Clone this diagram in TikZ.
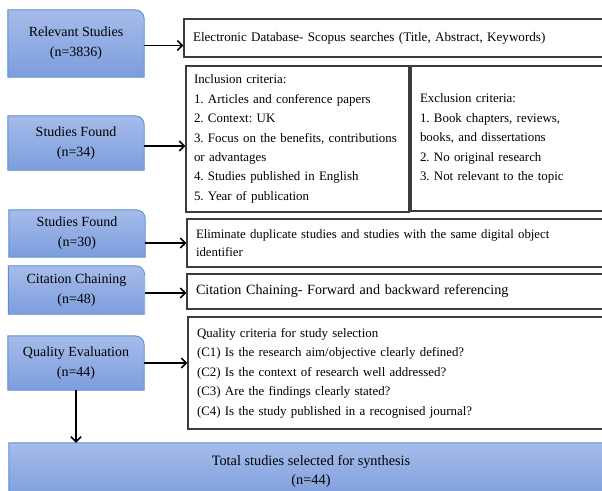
\documentclass[tikz,border=0pt]{standalone}
\usepackage{fontspec}
\setmainfont{Liberation Serif}
\usetikzlibrary{arrows.meta,backgrounds}
\frenchspacing
\hyphenpenalty=10000

\definecolor{stagetop}{HTML}{A6BCEA}
\definecolor{stagebottom}{HTML}{7C9DDC}
\definecolor{stageedge}{HTML}{5B8CD7}
\definecolor{boxedge}{HTML}{3C3C3C}

\tikzset{
  stage/.style={minimum width=136pt, align=center, inner sep=0pt,
    font=\fontsize{14}{20}\selectfont},
  note/.style={draw=boxedge, line width=1.3pt, align=left, inner xsep=9pt,
    inner ysep=0pt, font=\fontsize{12.9}{19.4}\selectfont},
  flow/.style={line width=1.5pt, -{Straight Barb[length=5pt,width=10pt]}},
}

\newcommand\stagebox[1]{%
  \shadedraw[top color=stagetop, bottom color=stagebottom, draw=stageedge, line width=0.9pt]
    (#1.south west) -- (#1.north west) [rounded corners=9pt] -- (#1.north east)
    [sharp corners] -- (#1.south east) -- cycle;}

\begin{document}
\begin{tikzpicture}[x=1pt, y=-1pt]
                \useasboundingbox (0,0) rectangle (602,490);
                \clip (0,0) rectangle (602,490);

                % stages on the left
                \node[stage, minimum height=67pt] (rel) at (76,43.5) {Relevant Studies\\(n=3836)};
                \node[stage, minimum height=54pt] (found34) at (76,143) {Studies Found\\(n=34)};
                \node[stage, minimum height=47pt] (found30) at (77,233.5) {Studies Found\\(n=30)};
                \node[stage, minimum height=48pt] (chain) at (76.5,290) {Citation Chaining\\(n=48)};
                \node[stage, minimum height=54pt] (quality) at (76,363) {Quality Evaluation\\(n=44)};
                \node[stage, minimum width=604pt, minimum height=57pt, font=\fontsize{14.3}{19}\selectfont]
                    (total) at (311,471.5) {Total studies selected for synthesis\\(n=44)};

                % notes on the right
                \node[note, text width=412pt, minimum height=38pt, font=\fontsize{13.1}{19}\selectfont]
                    (elec) at (399,38)
                    {Electronic Database- Scopus searches (Title, Abstract, Keywords)};
                \node[note, text width=207pt, inner xsep=8pt, minimum height=146pt] (incl) at (297.5,139)
                    {Inclusion criteria:\\1. Articles and conference papers\\2. Context: UK\\
                     3. Focus on the benefits, contributions\\or advantages\\
                     4. Studies published in English\\5. Year of publication};
                \node[note, text width=185pt, minimum height=145pt] (excl) at (512.5,138.5)
                    {Exclusion criteria:\\1. Book chapters, reviews,\\books, and dissertations\\
                     2. No original research\\3. Not relevant to the topic};
                \node[note, text width=409pt, minimum height=48pt, font=\fontsize{12.8}{17.7}\selectfont]
                    (dedup) at (400.5,243)
                    {Eliminate duplicate studies and studies with the same digital object\\identifier};
                \node[note, text width=409pt, minimum height=35pt, font=\fontsize{14.1}{19}\selectfont]
                    (cite) at (400.5,291.5) {Citation Chaining- Forward and backward referencing};
                \node[note, text width=408pt, minimum height=112pt, font=\fontsize{12.9}{19.5}\selectfont]
                    (qcrit) at (401,373)
                    {Quality criteria for study selection\\
                     (C1) Is the research aim/objective clearly defined?\\
                     (C2) Is the context of research well addressed?\\
                     (C3) Are the findings clearly stated?\\
                     (C4) Is the study published in a recognised journal?};

                \begin{scope}[on background layer]
                    \foreach \n in {rel,found34,found30,chain,quality,total} {\stagebox{\n}}
                \end{scope}

                \draw[flow] ([yshift=-2pt]rel.east) -- ([yshift=-2pt]rel.east -| elec.west);
                \draw[flow] ([yshift=-3pt]found34.east) -- ([yshift=-3pt]found34.east -| incl.west);
                \draw[flow] (found30.east |- dedup.west) -- (dedup.west);
                \draw[flow] ([yshift=-3pt]chain.east) -- ([yshift=-3pt]chain.east -| cite.west);
                \draw[flow] (quality.east) -- (quality.east -| qcrit.west);
                \draw[flow] (quality.south) -- (quality.south |- total.north);
\end{tikzpicture}
\end{document}
